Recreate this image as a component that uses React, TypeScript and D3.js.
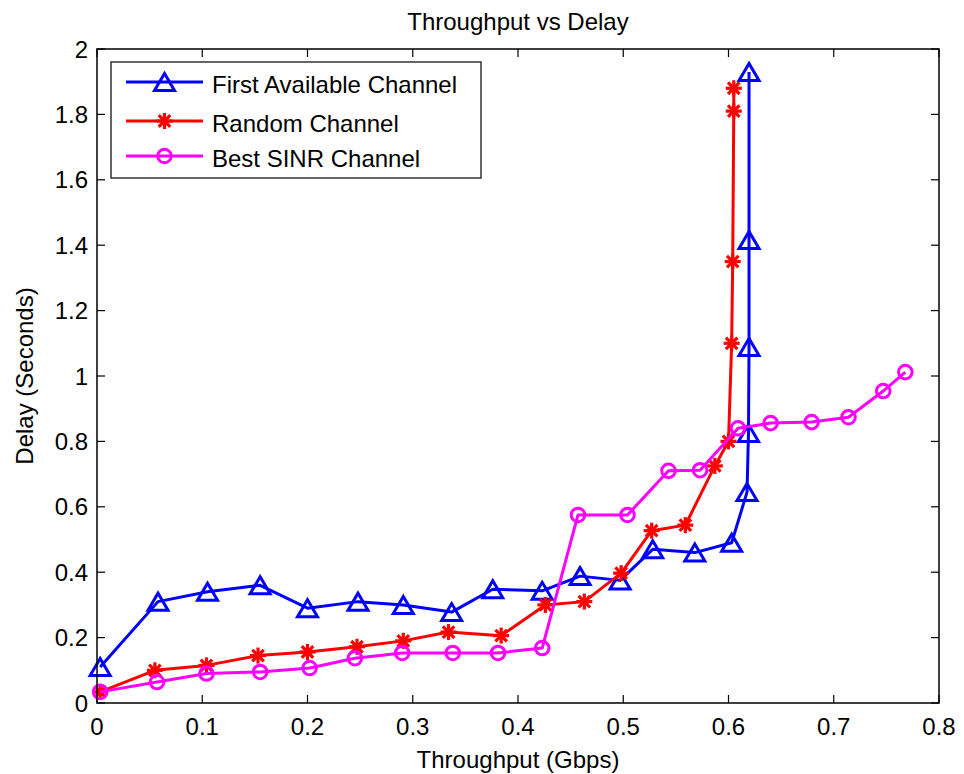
import React from "react";
import * as d3 from "d3";

const xTicks = [0, 0.1, 0.2, 0.3, 0.4, 0.5, 0.6, 0.7, 0.8];
const xTickLabels = ["0", "0.1", "0.2", "0.3", "0.4", "0.5", "0.6", "0.7", "0.8"];
const yTicks = [0, 0.2, 0.4, 0.6, 0.8, 1, 1.2, 1.4, 1.6, 1.8, 2];
const yTickLabels = ["0", "0.2", "0.4", "0.6", "0.8", "1", "1.2", "1.4", "1.6", "1.8", "2"];

const seriesNames = ["First Available Channel", "Random Channel", "Best SINR Channel"];

const firstX = [0.003, 0.058, 0.105, 0.155, 0.2, 0.248, 0.291, 0.337, 0.376, 0.423, 0.459, 0.497, 0.528, 0.568, 0.603, 0.6176, 0.619, 0.6195, 0.6195, 0.6195];
const firstY = [0.11, 0.31, 0.34, 0.36, 0.29, 0.31, 0.3, 0.278, 0.348, 0.343, 0.388, 0.375, 0.47, 0.46, 0.49, 0.645, 0.826, 1.089, 1.416, 1.93];

const randomX = [0.003, 0.055, 0.104, 0.153, 0.2, 0.247, 0.291, 0.334, 0.384, 0.426, 0.463, 0.498, 0.527, 0.559, 0.587, 0.6, 0.603, 0.604, 0.605, 0.605];
const randomY = [0.034, 0.1, 0.115, 0.145, 0.156, 0.172, 0.19, 0.217, 0.206, 0.3, 0.31, 0.397, 0.527, 0.544, 0.725, 0.8, 1.1, 1.35, 1.81, 1.88];

const bestX = [0.003, 0.057, 0.104, 0.155, 0.202, 0.245, 0.29, 0.338, 0.381, 0.423, 0.457, 0.504, 0.543, 0.573, 0.609, 0.64, 0.679, 0.714, 0.747, 0.768];
const bestY = [0.034, 0.064, 0.09, 0.095, 0.107, 0.137, 0.153, 0.153, 0.153, 0.168, 0.575, 0.575, 0.71, 0.712, 0.84, 0.856, 0.859, 0.874, 0.954, 1.012];

const W = 964;
const H = 774;
const L = 97, R = 939, T = 49, B = 703;
const FONT = "'Liberation Sans', Arial, Helvetica, sans-serif";

function Triangle({ x, y, color }: { x: number; y: number; color: string }) {
  const hw = 10, hh = 8.5;
  return (
    <polygon
      points={`${x},${y - hh} ${x - hw},${y + hh} ${x + hw},${y + hh}`}
      fill="none"
      stroke={color}
      strokeWidth={3}
      strokeLinejoin="miter"
    />
  );
}

function Star({ x, y, color }: { x: number; y: number; color: string }) {
  const r = 8;
  const d = r * 0.72;
  return (
    <g stroke={color} strokeWidth={3.2}>
      <line x1={x - r} y1={y} x2={x + r} y2={y} />
      <line x1={x} y1={y - r} x2={x} y2={y + r} />
      <line x1={x - d} y1={y - d} x2={x + d} y2={y + d} />
      <line x1={x - d} y1={y + d} x2={x + d} y2={y - d} />
    </g>
  );
}

function Circle({ x, y, color }: { x: number; y: number; color: string }) {
  return <circle cx={x} cy={y} r={6.8} fill="none" stroke={color} strokeWidth={3} />;
}

export default function App() {
  const xs = d3.scaleLinear().domain([0, 0.8]).range([L, R]);
  const ys = d3.scaleLinear().domain([0, 2]).range([B, T]);
  const line = d3.line<[number, number]>().x((d) => xs(d[0])).y((d) => ys(d[1]));

  const series = [
    { name: seriesNames[0], xv: firstX, yv: firstY, color: "#0000ff", M: Triangle },
    { name: seriesNames[1], xv: randomX, yv: randomY, color: "#ff0000", M: Star },
    { name: seriesNames[2], xv: bestX, yv: bestY, color: "#ff00ff", M: Circle },
  ];

  const tl = 8;
  const legRows = [82, 121, 156];

  return (
    <svg
      width={W}
      height={H}
      style={{ position: "absolute", left: 0, top: 0, background: "#fff" }}
      fontFamily={FONT}
    >
      <rect x={0} y={0} width={W} height={H} fill="#fff" />
      <text x={(L + R) / 2} y={30} textAnchor="middle" fontSize={24} fill="#000">
        Throughput vs Delay
      </text>

      {/* ticks */}
      <g stroke="#000" strokeWidth={1.2}>
        {xTicks.map((t) => (
          <g key={"xt" + t}>
            <line x1={xs(t)} x2={xs(t)} y1={B} y2={B - tl} />
            <line x1={xs(t)} x2={xs(t)} y1={T} y2={T + tl} />
          </g>
        ))}
        {yTicks.map((t) => (
          <g key={"yt" + t}>
            <line x1={L} x2={L + tl} y1={ys(t)} y2={ys(t)} />
            <line x1={R} x2={R - tl} y1={ys(t)} y2={ys(t)} />
          </g>
        ))}
      </g>
      {xTicks.map((t, i) => (
        <text key={"xl" + t} x={xs(t)} y={B + 32} textAnchor="middle" fontSize={24} fill="#000">
          {xTickLabels[i]}
        </text>
      ))}
      {yTicks.map((t, i) => (
        <text key={"yl" + t} x={L - 9} y={ys(t) + 8.5} textAnchor="end" fontSize={24} fill="#000">
          {yTickLabels[i]}
        </text>
      ))}

      <text x={(L + R) / 2} y={768} textAnchor="middle" fontSize={24} fill="#000">
        Throughput (Gbps)
      </text>
      <text
        transform={`translate(33, ${(T + B) / 2}) rotate(-90)`}
        textAnchor="middle"
        fontSize={24}
        fill="#000"
      >
        Delay (Seconds)
      </text>

      {/* series */}
      {series.map((s) => {
        const pts: [number, number][] = s.xv.map((x, i) => [x, s.yv[i]]);
        const M = s.M;
        return (
          <g key={s.name}>
            <path d={line(pts) || ""} fill="none" stroke={s.color} strokeWidth={3} strokeLinejoin="round" />
            {pts.map((p, i) => (
              <M key={i} x={xs(p[0])} y={ys(p[1])} color={s.color} />
            ))}
          </g>
        );
      })}

      {/* axes box */}
      <rect x={L} y={T} width={R - L} height={B - T} fill="none" stroke="#000" strokeWidth={1.5} />

      {/* legend */}
      <rect x={111} y={62} width={370} height={116} fill="#fff" stroke="#000" strokeWidth={1.2} />
      {series.map((s, i) => {
        const M = s.M;
        const y = legRows[i];
        return (
          <g key={"leg" + i}>
            <line x1={126} x2={203} y1={y} y2={y} stroke={s.color} strokeWidth={3} />
            <M x={164.5} y={y} color={s.color} />
            <text x={212} y={y + 11} fontSize={24} fill="#000">
              {s.name}
            </text>
          </g>
        );
      })}
    </svg>
  );
}
